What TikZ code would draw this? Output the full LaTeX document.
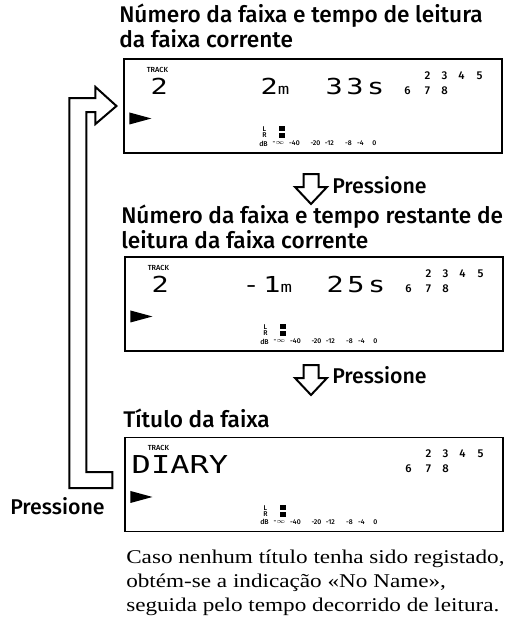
\documentclass[tikz,border=0pt]{standalone}
\usepackage{fontspec}
\setmainfont[FakeStretch=1.19]{Liberation Serif}
\newfontfamily\headfont{Fira Sans Medium}
\newfontfamily\lcdfont[FakeStretch=1.3]{DejaVu Sans Mono}

\begin{document}
\begin{tikzpicture}[x=0.75pt, y=-0.75pt, every node/.style={inner sep=0pt},
  disp/.style={draw, line width=0.8pt, minimum width=283.5pt, minimum height=70.5pt},
  heading/.style={anchor=north west, align=left, font=\headfont\fontsize{17}{18.75}\selectfont},
  press/.style={anchor=base west, font=\headfont\fontsize{16}{18}\selectfont},
  hollow/.style={line width=1.5pt, line join=miter},
  lcd/.style={anchor=west, font=\lcdfont\fontsize{16.5}{16.5}\selectfont\addfontfeature{LetterSpace=16}},
  tiny/.style={font=\headfont\fontsize{5.2}{5.2}\selectfont}]
  \useasboundingbox (0,0) rectangle (517,619);

  % the three displays
  \node[disp] (disp1) at (313,106) {};
  \node[disp] (disp2) at (314,304) {};
  \node[disp] (disp3) at (314,484.5) {};

  \node[heading] (head1) at (119,4) {Número da faixa e tempo de leitura\\da faixa corrente};
  \node[heading] (head2) at (121,205) {Número da faixa e tempo restante de\\leitura da faixa corrente};
  \node[heading] (head3) at (123,409) {Título da faixa};

  % same on every display
  \foreach \b in {1,2,3} {
    \node[font=\headfont\fontsize{5.5}{5.5}\selectfont] (track\b) at ([shift={(34,11)}]disp\b.north west) {TRACK};
    \fill ([shift={(6,54)}]disp\b.north west) -- ++(22,6) -- ++(-22,6) -- cycle;
    \foreach \n/\x/\y in {2/304/17, 3/321/17, 4/338/17, 5/356/17, 6/284/32, 7/304/32, 8/321/32}
      \node[font=\headfont\fontsize{8.5}{8.5}\selectfont] (num\b-\n) at ([shift={(\x,\y)}]disp\b.north west) {\n};
    \node[tiny] (lch\b) at ([shift={(141,71)}]disp\b.north west) {L};
    \node[tiny] (rch\b) at ([shift={(141,77)}]disp\b.north west) {R};
    \fill ([shift={(156,68)}]disp\b.north west) rectangle ++(6,5);
    \fill ([shift={(156,75)}]disp\b.north west) rectangle ++(6,5);
    \foreach \t/\x [count=\i] in {dB/140, -$\infty$/155, -40/171, -20/192, -12/206, -8/225, -4/237, 0/251}
      \node[tiny] (scale\b-\i) at ([shift={(\x,85)}]disp\b.north west) {\t};
  }

  % what each display reads
  \node[lcd] (tno1) at ([shift={(27,28)}]disp1.north west) {2};
  \node[lcd] (tmin1) at ([shift={(137,28)}]disp1.north west) {2{\lcdfont\fontsize{11}{11}\selectfont m}};
  \node[lcd] (tsec1) at ([shift={(202,28)}]disp1.north west) {33s};
  \node[lcd] (tno2) at ([shift={(27,28)}]disp2.north west) {2};
  \node[lcd] (tmin2) at ([shift={(118,28)}]disp2.north west) {-1{\lcdfont\fontsize{11}{11}\selectfont m}};
  \node[lcd] (tsec2) at ([shift={(202,28)}]disp2.north west) {25s};
  \node[lcd, font=\lcdfont\fontsize{18.5}{18.5}\selectfont] (title3) at ([shift={(7,28)}]disp3.north west) {DIARY};

  % press arrows
  \coordinate (arr1) at (311,174);
  \coordinate (arr2) at (311,365);
  \draw[hollow] (arr1) ++(-7.5,0) -- ++(15,0) -- ++(0,13) -- ++(8.5,0) -- ++(-16,17) -- ++(-16,-17) -- ++(8.5,0) -- cycle;
  \draw[hollow] (arr2) ++(-7.5,0) -- ++(15,0) -- ++(0,13) -- ++(8.5,0) -- ++(-16,17) -- ++(-16,-17) -- ++(8.5,0) -- cycle;
  \node[press] (press1) at (332,193) {Pressione};
  \node[press] (press2) at (332,383) {Pressione};

  % back to the first display
  \coordinate (looptip) at ([shift={(-7,0)}]disp1.west);
  \coordinate (looptail) at ([shift={(-12,-4.5)}]disp3.west);
  \draw[hollow] (looptip) -- ++(-21,-19) -- ++(0,11) -- ++(-26,0) |- ([shift={(0,8)}]looptail)
    -- ++(0,-16) -- ++(-26,0) |- ([shift={(-21,6)}]looptip) -- ++(0,12) -- cycle;
  \node[press] (press3) at (10,514) {Pressione};

  \node[anchor=north west, align=left, font=\fontsize{14.6}{18}\selectfont] (note) at (126,550)
    {Caso nenhum título tenha sido registado,\\obtém-se a indicação «No Name»,\\seguida pelo tempo decorrido de leitura.};
\end{tikzpicture}
\end{document}
